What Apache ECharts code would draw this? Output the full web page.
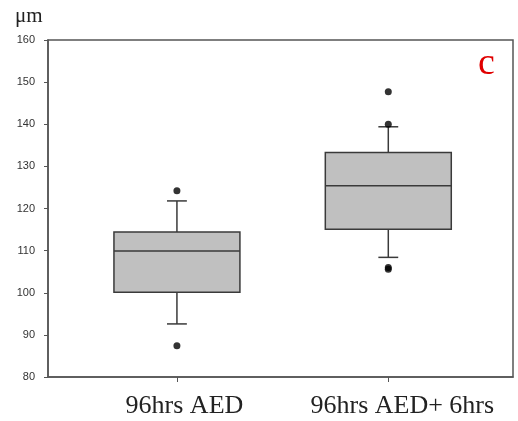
<!DOCTYPE html>
<html><head><meta charset="utf-8">
<script src="https://cdn.jsdelivr.net/npm/echarts@6/dist/echarts.min.js"></script>
<style>html,body{margin:0;padding:0;background:#fff}#c{width:518px;height:421px}</style>
</head><body><div id="c"></div>
<script>
const categories = ['96hrs AED', '96hrs AED+ 6hrs'];
// [lowerWhisker, Q1, median, Q3, upperWhisker]
const boxStats = [
  [92.6, 100.1, 109.9, 114.4, 121.8],
  [108.4, 115.1, 125.4, 133.3, 139.4]
];
const outliers = [
  [0, 124.2], [0, 87.4],
  [1, 147.7], [1, 140.0], [1, 106.0], [1, 105.6]
];
const yTicks = [80, 90, 100, 110, 120, 130, 140, 150, 160];

const boxData = boxStats.map((s, i) => [i + 1].concat(s));
const outData = outliers.map(o => [o[0] + 1, o[1]]);
const stroke = '#3a3a3a';
const serif = '"Liberation Serif", "DejaVu Serif", serif';

const chart = echarts.init(document.getElementById('c'));
chart.setOption({
  backgroundColor: '#fff',
  animation: false,
  grid: { left: 48, right: 5, top: 40, bottom: 44, show: true, borderColor: '#555', borderWidth: 1.5, backgroundColor: 'transparent' },
  graphic: [
    { type: 'text', left: 15, top: 6, style: { text: 'μm', fontSize: 21, fontFamily: serif, fill: '#222' } },
    { type: 'text', left: 478, top: 45, style: { text: 'c', fontSize: 38, fontFamily: serif, fill: '#e00000' } }
  ],
  xAxis: {
    type: 'value', min: 0.39, max: 2.59,
    splitLine: { show: false },
    axisLine: { show: true, lineStyle: { color: '#555', width: 1.5 } },
    axisTick: { show: true, length: 5, customValues: [1, 2], lineStyle: { color: '#555' } },
    axisLabel: {
      customValues: [1, 2], margin: 16,
      formatter: v => {
        const i = Math.round(v) - 1;
        return i === 0 ? '{a|' + categories[0] + '}' : '{b|' + categories[1] + '}';
      },
      rich: {
        a: { fontSize: 26, fontFamily: serif, color: '#222', padding: [0, 0, 0, 15] },
        b: { fontSize: 26, fontFamily: serif, color: '#222', padding: [0, 0, 0, 28] }
      }
    }
  },
  yAxis: {
    type: 'value', min: 80, max: 160, interval: 10,
    splitLine: { show: false },
    axisLine: { show: true, lineStyle: { color: '#555', width: 1.5 } },
    axisTick: { show: true, length: 4, lineStyle: { color: '#555' } },
    axisLabel: { margin: 13, color: '#333', fontSize: 11, fontFamily: 'Liberation Sans, Arial, sans-serif',
      formatter: v => yTicks.includes(v) ? String(v) : '' }
  },
  series: [
    {
      type: 'custom',
      data: boxData,
      encode: { x: 0, y: [1, 2, 3, 4, 5] },
      renderItem: function (params, api) {
        const x = api.value(0);
        const half = api.size([0.298, 0])[0];
        const cap = api.size([0.047, 0])[0];
        const p = k => api.coord([x, api.value(k)]);
        const lo = p(1), q1 = p(2), med = p(3), q3 = p(4), hi = p(5);
        const cx = lo[0];
        const ls = { stroke: stroke, lineWidth: 1.5, fill: null };
        return {
          type: 'group',
          children: [
            { type: 'line', shape: { x1: cx, y1: q3[1], x2: cx, y2: hi[1] }, style: ls },
            { type: 'line', shape: { x1: cx, y1: q1[1], x2: cx, y2: lo[1] }, style: ls },
            { type: 'line', shape: { x1: cx - cap, y1: hi[1], x2: cx + cap, y2: hi[1] }, style: ls },
            { type: 'line', shape: { x1: cx - cap, y1: lo[1], x2: cx + cap, y2: lo[1] }, style: ls },
            { type: 'rect', shape: { x: cx - half, y: q3[1], width: 2 * half, height: q1[1] - q3[1] }, style: { fill: '#c0c0c0', stroke: stroke, lineWidth: 1.5 } },
            { type: 'line', shape: { x1: cx - half, y1: med[1], x2: cx + half, y2: med[1] }, style: ls }
          ]
        };
      }
    },
    {
      type: 'scatter', data: outData, symbolSize: 7,
      itemStyle: { color: '#000' }
    }
  ]
});
</script></body></html>
